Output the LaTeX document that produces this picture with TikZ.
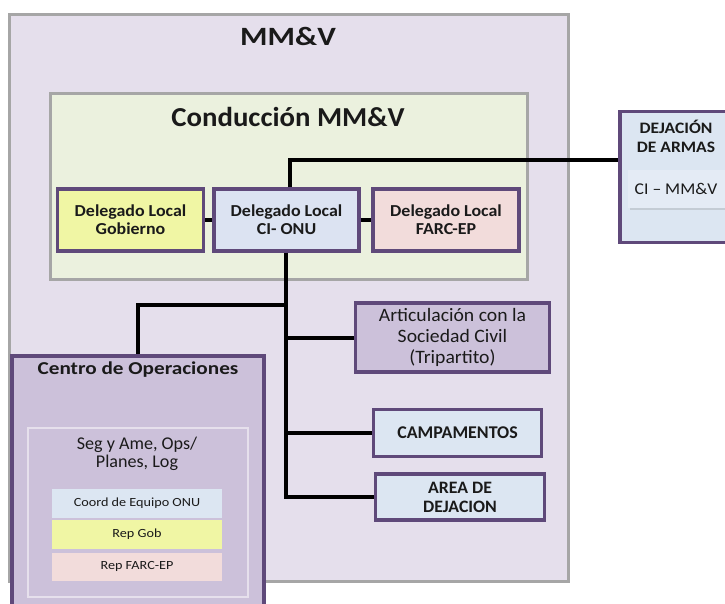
\documentclass[tikz,border=0pt]{standalone}
\usepackage{fontspec}
\setmainfont{Carlito}
\usetikzlibrary{shadows}
\definecolor{mmvfill}{HTML}{E5DFEC}
\definecolor{grayline}{HTML}{A6A6A6}
\definecolor{condfill}{HTML}{EBF1DE}
\definecolor{purp}{HTML}{5F497A}
\definecolor{yel}{HTML}{F0F6A4}
\definecolor{onublue}{HTML}{DCE3F2}
\definecolor{pink}{HTML}{F2DCDB}
\definecolor{lilac}{HTML}{CCC1DA}
\definecolor{lblue}{HTML}{DCE6F2}
\definecolor{inner}{HTML}{E4EBF5}
\definecolor{segline}{HTML}{E6E0EC}
\definecolor{txt}{HTML}{1A1A1A}
\newcommand{\sfont}[3]{\fontsize{#1}{#2}\selectfont\addfontfeatures{FakeStretch=#3}}
\begin{document}
\begin{tikzpicture}[x=1bp,y=-1bp,
  shad/.style={drop shadow={opacity=0.25, shadow xshift=1.5bp, shadow yshift=-1.5bp}},
  frame/.style={draw=grayline, line width=3bp, inner sep=0pt, shad},
  pbox/.style={draw=purp, line width=3.2bp, inner sep=0pt, align=center, text=txt, shad},
  sub/.style={inner sep=0pt, align=center, text=txt, minimum width=170bp},
  lbl/.style={inner sep=0pt, align=center, text=txt},
  conn/.style={line width=4bp, black}]
\useasboundingbox (0,0) rectangle (725,604);
\clip (0,0) rectangle (725,604);
\fill[white] (0,0) rectangle (725,604);

% outer MM&V
\node[frame, fill=mmvfill, minimum width=559bp, minimum height=566bp] (mmv) at (288.7,298) {};
\node[lbl, font=\bfseries\sfont{26.5}{30}{1.19}] (mmvt) at (288,36) {MM\&V};

% Conduccion
\node[frame, fill=condfill, minimum width=477bp, minimum height=185bp] (cond) at (289,186.5) {};
\node[lbl, font=\bfseries\sfont{27.5}{31}{1.05}] (condt) at (288,117) {Conducción MM\&V};

% delegados
\node[pbox, fill=yel, minimum width=146bp, minimum height=62bp, font=\bfseries\sfont{16.8}{18}{1.07}] (gob) at (130.5,220) {Delegado Local\\Gobierno};
\node[pbox, fill=onublue, minimum width=145bp, minimum height=62bp, font=\bfseries\sfont{16.8}{18}{1.07}] (onu) at (286.5,220) {Delegado Local\\CI- ONU};
\node[pbox, fill=pink, minimum width=146bp, minimum height=62bp, font=\bfseries\sfont{16.8}{18}{1.07}] (farc) at (446,220) {Delegado Local\\FARC-EP};

% Dejacion de armas
\node[pbox, fill=lblue, minimum width=120bp, minimum height=131bp] (dej) at (680,177) {};
\node[lbl, font=\bfseries\sfont{16}{19}{1.1}] (dejt) at (676,136.5) {DEJACIÓN\\DE ARMAS};
\node[inner sep=0pt, fill=inner, minimum width=110bp, minimum height=38bp, shad] (dejin) at (683,189) {};
\node[lbl, font=\sfont{16.5}{20}{1.07}] (cimmv) at (676,189) {CI – MM\&V};

% right boxes
\node[pbox, fill=lilac, minimum width=194bp, minimum height=69bp, font=\sfont{19}{21.3}{1.04}] (art) at (452.5,337.5) {Articulación con la\\Sociedad Civil\\(Tripartito)};
\node[pbox, fill=lblue, minimum width=168bp, minimum height=47bp, font=\bfseries\sfont{18}{20}{1}] (camp) at (457.5,433) {CAMPAMENTOS};
\node[pbox, fill=lblue, minimum width=169bp, minimum height=46bp, font=\bfseries\sfont{17.5}{19}{1.02}] (area) at (460,497) {AREA DE\\DEJACION};

% Centro de Operaciones
\node[pbox, fill=lilac, minimum width=252bp, minimum height=260bp] (centro) at (138,486) {};
\node[lbl, font=\bfseries\sfont{18.2}{22}{1.17}] (centrot) at (138,369.5) {Centro de Operaciones};
\node[draw=segline, line width=2bp, fill=lilac, inner sep=0pt, minimum width=220bp, minimum height=169bp] (seg) at (138,512) {};
\node[lbl, font=\sfont{18}{17.5}{1.01}] (segt) at (137,454) {Seg y Ame, Ops/\\Planes, Log};
\node[sub, fill=lblue, minimum height=29bp, font=\sfont{12.5}{15}{1.14}] (coord) at (137,503) {Coord de Equipo ONU};
\node[sub, fill=yel, minimum height=29bp, font=\sfont{12.5}{15}{1.14}] (repgob) at (137,534.5) {Rep Gob};
\node[sub, fill=pink, minimum height=28bp, font=\sfont{12.5}{15}{1.14}] (repfarc) at (137,566.5) {Rep FARC-EP};

% connectors
\coordinate (top) at (290.3,160);
\coordinate (trunk) at (285.7,304.5);
\draw[conn] (gob) -- (onu);
\draw[conn] (onu) -- (farc);
\draw[conn] (onu.north -| top) -- (top) -- (dej.west |- top);
\draw[conn] (onu.south -| trunk) -- (trunk |- area.west) -- (area.west);
\draw[conn] (trunk) -| (centro.north);
\draw[conn] (trunk |- art.west) -- (art.west);
\draw[conn] (trunk |- camp.west) -- (camp.west);
\end{tikzpicture}
\end{document}
